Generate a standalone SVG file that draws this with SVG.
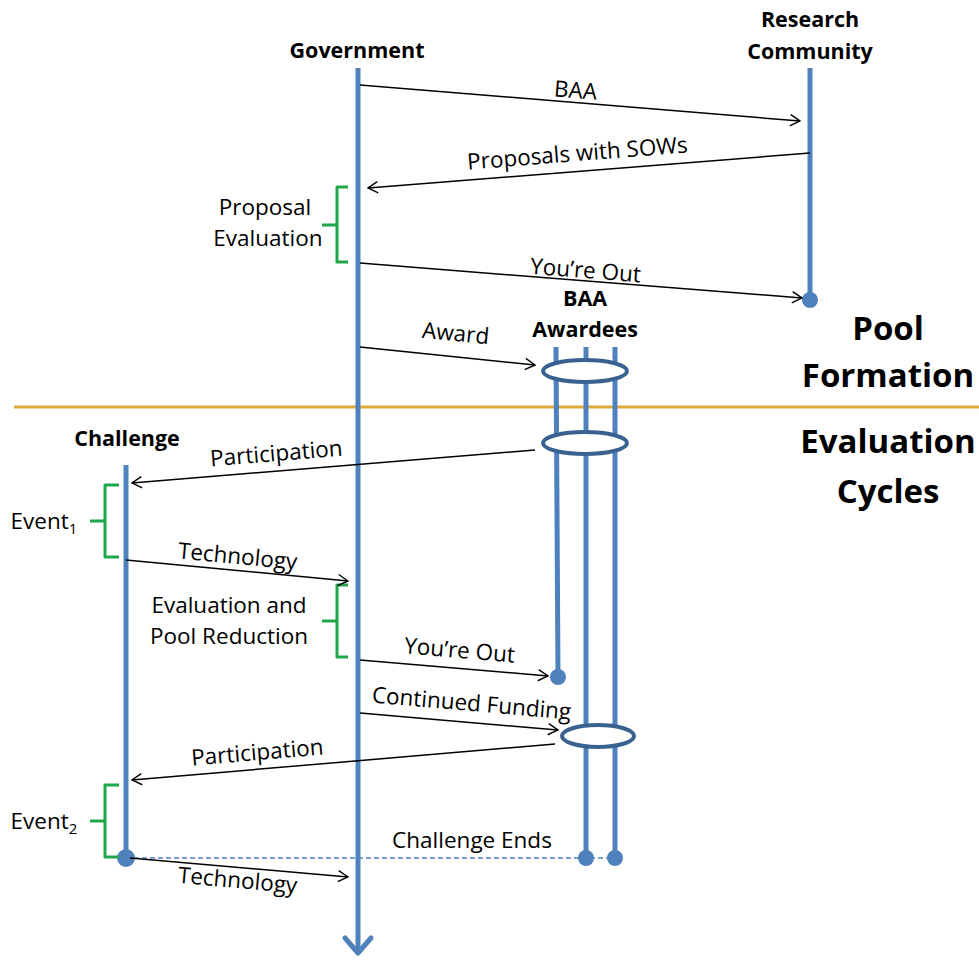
<svg xmlns="http://www.w3.org/2000/svg" width="979" height="961" viewBox="0 0 979 961">
<style>
.t{font-family:"Open Sans","Liberation Sans",sans-serif;font-size:22.5px;fill:#000;text-anchor:middle}
.b{font-weight:bold;font-size:21.5px}
.big{font-family:"Open Sans","Liberation Sans",sans-serif;font-size:33px;font-weight:bold;text-anchor:middle}
.life{stroke:#4F81BD;stroke-width:5;fill:none}
.msg{stroke:#000;stroke-width:1.5;fill:none;marker-end:url(#ah)}
.br{stroke:#1EA84A;stroke-width:3;fill:none;stroke-linejoin:round}
.ring{stroke:#3A6290;stroke-width:4;fill:#fff}
.dot{fill:#4F81BD}
</style>
<defs>
<marker id="ah" viewBox="0 0 20 20" refX="18" refY="10" markerWidth="14" markerHeight="14" markerUnits="userSpaceOnUse" orient="auto">
<path d="M4,2 L18,10 L4,18" fill="none" stroke="#000" stroke-width="2"/>
</marker>
</defs>
<line x1="14" y1="407" x2="979" y2="407" stroke="#E3A83A" stroke-width="3"/>
<g id="government">
<line class="life" x1="358" y1="68" x2="358" y2="953"/>
<path d="M345,938 L358,953 L371,938" class="life" stroke-linecap="round" stroke-linejoin="round"/>
<text class="t b" x="357" y="58">Government</text>
</g>
<g id="research">
<line class="life" x1="810" y1="68" x2="810" y2="300"/>
<circle class="dot" cx="810" cy="300" r="8"/>
<text class="t b" x="810" y="27">Research</text>
<text class="t b" x="810" y="59">Community</text>
</g>
<g id="awardees">
<text class="t b" x="585" y="306">BAA</text>
<text class="t b" x="585" y="337">Awardees</text>
<line class="life" x1="556" y1="347" x2="558" y2="677"/>
<circle class="dot" cx="558" cy="677" r="8"/>
<line class="life" x1="586" y1="347" x2="586" y2="858"/>
<circle class="dot" cx="586" cy="858" r="8"/>
<line class="life" x1="615" y1="347" x2="615" y2="858"/>
<circle class="dot" cx="615" cy="858" r="8"/>
<ellipse class="ring" cx="585" cy="371" rx="42" ry="11"/>
<ellipse class="ring" cx="585" cy="443" rx="42" ry="11"/>
<ellipse class="ring" cx="598" cy="736" rx="36" ry="11"/>
</g>
<g id="challenge">
<line class="life" x1="126" y1="465" x2="126" y2="858"/>
<circle class="dot" cx="126" cy="858" r="9"/>
<text class="t b" x="127" y="446">Challenge</text>
</g>
<g id="sections">
<text class="big" x="888" y="340">Pool</text>
<text class="big" x="888" y="387">Formation</text>
<text class="big" x="888" y="453">Evaluation</text>
<text class="big" x="888" y="503">Cycles</text>
</g>
<g id="brackets">
<path class="br" d="M348,187 L337,187 L337,225 L322,225 M337,225 L337,262 L348,262"/>
<text class="t" x="265" y="215">Proposal</text>
<text class="t" x="268" y="246">Evaluation</text>
<path class="br" d="M119,485 L105,485 L105,521 L90,521 M105,521 L105,557 L119,557"/>
<text class="t" x="44" y="529">Event<tspan font-size="15" dy="5">1</tspan></text>
<path class="br" d="M348,585 L337,585 L337,621 L322,621 M337,621 L337,657 L348,657"/>
<text class="t" x="229" y="613">Evaluation and</text>
<text class="t" x="229" y="644">Pool Reduction</text>
<path class="br" d="M119,785 L105,785 L105,821 L90,821 M105,821 L105,857 L119,857"/>
<text class="t" x="44" y="829">Event<tspan font-size="15" dy="5">2</tspan></text>
</g>
<g id="connectors">
<line class="msg" x1="360" y1="85" x2="800" y2="121"/>
<text class="t" x="575" y="98" transform="rotate(4.7 575 98)">BAA</text>
<line class="msg" x1="810" y1="153" x2="368" y2="188"/>
<text class="t" x="578" y="161" transform="rotate(-4.5 578 161)">Proposals with SOWs</text>
<line class="msg" x1="360" y1="263" x2="802" y2="298"/>
<text class="t" x="585" y="278" transform="rotate(4.5 585 278)">You’re Out</text>
<line class="msg" x1="360" y1="347" x2="535" y2="365"/>
<text class="t" x="455" y="341" transform="rotate(5.5 455 341)">Award</text>
<line class="msg" x1="535" y1="450" x2="132" y2="483"/>
<text class="t" x="277" y="461" transform="rotate(-4.7 277 461)">Participation</text>
<line class="msg" x1="126" y1="560" x2="348" y2="581"/>
<text class="t" x="237" y="564" transform="rotate(5.4 237 564)">Technology</text>
<line class="msg" x1="360" y1="660" x2="548" y2="676"/>
<text class="t" x="459" y="658" transform="rotate(4.9 459 658)">You’re Out</text>
<line class="msg" x1="360" y1="713" x2="558" y2="730"/>
<text class="t" x="471" y="711" transform="rotate(4.9 471 711)">Continued Funding</text>
<line class="msg" x1="555" y1="744" x2="132" y2="780"/>
<text class="t" x="258" y="760" transform="rotate(-4.9 258 760)">Participation</text>
<line x1="126" y1="858" x2="615" y2="858" stroke="#4F81BD" stroke-width="1.5" stroke-dasharray="5,3"/>
<text class="t" x="472" y="848">Challenge Ends</text>
<line class="msg" x1="130" y1="858" x2="348" y2="877"/>
<text class="t" x="237" y="888" transform="rotate(5 237 888)">Technology</text>
</g>
</svg>
